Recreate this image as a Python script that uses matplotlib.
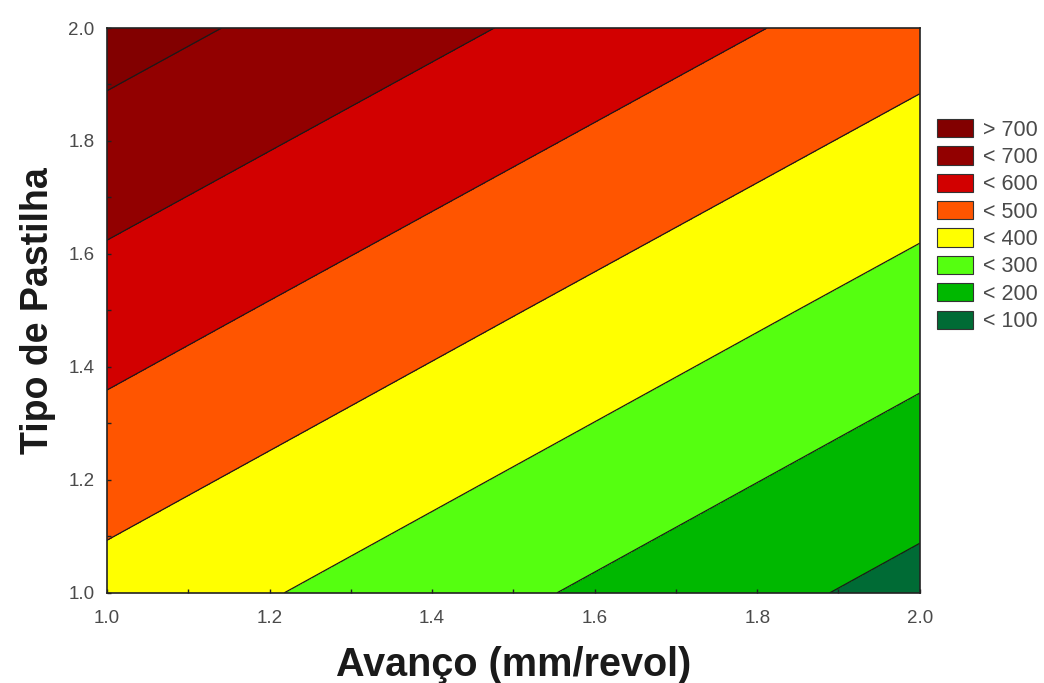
import matplotlib
matplotlib.use("Agg")
import matplotlib.pyplot as plt
from matplotlib.patches import Patch
import numpy as np

plt.rcParams['font.family'] = ['Liberation Sans', 'DejaVu Sans']

# Fitted response surface sampled on a coarse grid
avanco = [1.0, 1.5, 2.0]
pastilha = [1.0, 1.5, 2.0]
resposta = [
    [365, 216, 67],
    [553, 404, 255],
    [742, 593, 444],
]

levels = [0, 100, 200, 300, 400, 500, 600, 700, 800]
fill_colors = ['#006b35', '#00b800', '#55ff10', '#ffff00',
               '#ff5500', '#d20000', '#920000', '#820000']
legend_labels = ['> 700', '< 700', '< 600', '< 500', '< 400', '< 300', '< 200', '< 100']

fig = plt.figure(figsize=(10.44, 6.83), dpi=100)
ax = fig.add_axes([0.1025, 0.132, 0.7785, 0.827])

X, Y = np.meshgrid(avanco, pastilha)
Z = np.array(resposta, dtype=float)
ax.contourf(X, Y, Z, levels=levels, colors=fill_colors)
ax.contour(X, Y, Z, levels=levels[1:-1], colors='#1a1a1a', linewidths=0.9)

ax.set_xlim(1.0, 2.0)
ax.set_ylim(1.0, 2.0)
major = np.arange(1.0, 2.01, 0.2)
minor = np.arange(1.1, 2.0, 0.2)
ax.set_xticks(major)
ax.set_yticks(major)
ax.set_xticks(minor, minor=True)
ax.set_yticks(minor, minor=True)
ax.set_xticklabels([f'{v:.1f}' for v in major])
ax.set_yticklabels([f'{v:.1f}' for v in major])
ax.tick_params(which='both', direction='in', length=3, width=1, color='#222222',
               labelsize=13.5, labelcolor='#4a4a4a')
ax.tick_params(axis='x', pad=12)
ax.tick_params(axis='y', pad=9)
for s in ax.spines.values():
    s.set_linewidth(1.2)
    s.set_color('#222222')

ax.set_xlabel('Avanço (mm/revol)', fontsize=28.5, fontweight='bold', labelpad=14, color='#1a1a1a')
ax.set_ylabel('Tipo de Pastilha', fontsize=27, fontweight='bold', labelpad=9, color='#1a1a1a')

handles = [Patch(facecolor=c, edgecolor='#333333', linewidth=0.8)
           for c in fill_colors[::-1]]
fig.legend(handles, legend_labels, loc='upper left', bbox_to_anchor=(937 / 1044, 1 - 119 / 683),
           frameon=False, fontsize=15.5, handlelength=1.68, handleheight=0.93,
           labelspacing=0.27, handletextpad=0.47, borderpad=0, borderaxespad=0,
           labelcolor='#4a4a4a')

fig.savefig('out.png', dpi=100, facecolor='white')
